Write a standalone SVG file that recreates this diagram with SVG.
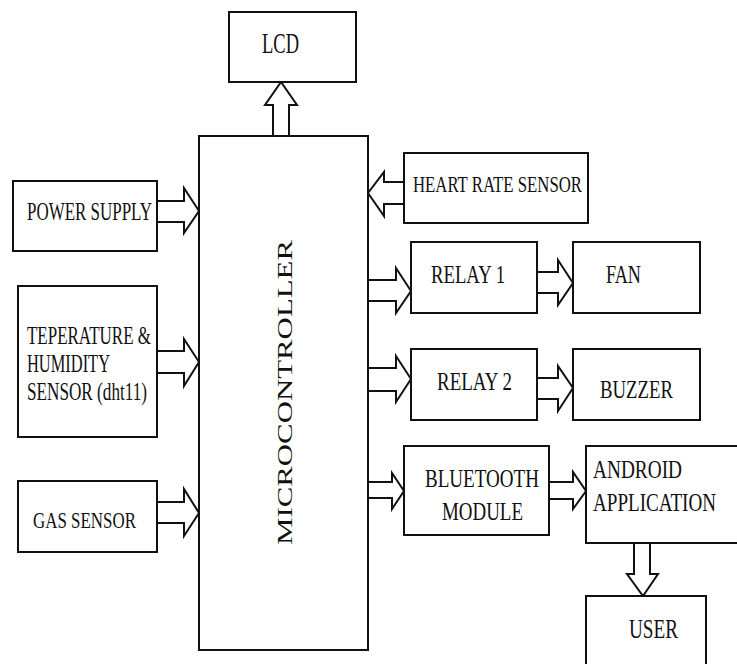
<svg xmlns="http://www.w3.org/2000/svg" width="737" height="664" viewBox="0 0 737 664">
  <style>
    .box { fill: #ffffff; stroke: #111111; stroke-width: 2; }
    .arrow { fill: #ffffff; stroke: #111111; stroke-width: 2; stroke-linejoin: miter; }
    .lbl { font-family: "Liberation Serif", "Times New Roman", serif; fill: #111111; }
  </style>
  <rect x="0" y="0" width="737" height="664" fill="#ffffff"/>

  <!-- block arrows between units -->
  <g id="connectors">
    <path class="arrow" d="M273,136 V105 H265 L281,82 L297,105 H289 V136"/>
    <path class="arrow" d="M157,201 H184 V188 L199,211 L184,233 V222 H157"/>
    <path class="arrow" d="M157,351 H184 V339 L199,362 L184,386 V373 H157"/>
    <path class="arrow" d="M157,502 H184 V489 L199,513 L184,536 V523 H157"/>
    <path class="arrow" d="M404,182 H384 V172 L368,193 L384,216 V204 H404"/>
    <path class="arrow" d="M368,280 H396 V268 L411,291 L396,313 V301 H368"/>
    <path class="arrow" d="M368,368 H396 V356 L411,379 L396,402 V391 H368"/>
    <path class="arrow" d="M368,482 H392 V473 L404,491 L392,509 V498 H368"/>
    <path class="arrow" d="M537,272 H558 V260 L573,283 L558,305 V293 H537"/>
    <path class="arrow" d="M537,378 H558 V366 L573,388 L558,411 V399 H537"/>
    <path class="arrow" d="M549,482 H573 V472 L586,491 L573,509 V499 H549"/>
    <path class="arrow" d="M634,543 V574 H627 L643,596 L658,574 H650 V543"/>
  </g>

  <g id="lcd">
    <rect class="box" x="229" y="12" width="127" height="70"/>
    <text class="lbl" x="262" y="53" font-size="29" textLength="37" lengthAdjust="spacingAndGlyphs">LCD</text>
  </g>

  <g id="microcontroller">
    <rect class="box" x="199" y="136" width="169" height="514"/>
    <text class="lbl" transform="translate(292,545) rotate(-90)" x="0" y="0" font-size="21" textLength="305" lengthAdjust="spacingAndGlyphs">MICROCONTROLLER</text>
  </g>

  <g id="power-supply">
    <rect class="box" x="13" y="181" width="144" height="70"/>
    <text class="lbl" x="27" y="220" font-size="26" textLength="125" lengthAdjust="spacingAndGlyphs">POWER SUPPLY</text>
  </g>

  <g id="temp-humidity">
    <rect class="box" x="18" y="286" width="139" height="151"/>
    <text class="lbl" x="27" y="344" font-size="26" textLength="124" lengthAdjust="spacingAndGlyphs">TEPERATURE &amp;</text>
    <text class="lbl" x="27" y="372" font-size="26" textLength="83" lengthAdjust="spacingAndGlyphs">HUMIDITY</text>
    <text class="lbl" x="27" y="400" font-size="26" textLength="120" lengthAdjust="spacingAndGlyphs">SENSOR (dht11)</text>
  </g>

  <g id="gas-sensor">
    <rect class="box" x="18" y="481" width="139" height="71"/>
    <text class="lbl" x="33" y="528" font-size="24" textLength="103" lengthAdjust="spacingAndGlyphs">GAS SENSOR</text>
  </g>

  <g id="heart-rate">
    <rect class="box" x="404" y="153" width="184" height="70"/>
    <text class="lbl" x="413" y="192" font-size="24" textLength="169" lengthAdjust="spacingAndGlyphs">HEART RATE SENSOR</text>
  </g>

  <g id="relay-1">
    <rect class="box" x="411" y="242" width="126" height="71"/>
    <text class="lbl" x="431" y="283" font-size="26" textLength="74" lengthAdjust="spacingAndGlyphs">RELAY 1</text>
  </g>

  <g id="fan">
    <rect class="box" x="573" y="242" width="127" height="71"/>
    <text class="lbl" x="606" y="283" font-size="26" textLength="35" lengthAdjust="spacingAndGlyphs">FAN</text>
  </g>

  <g id="relay-2">
    <rect class="box" x="411" y="349" width="126" height="71"/>
    <text class="lbl" x="437" y="390" font-size="26" textLength="75" lengthAdjust="spacingAndGlyphs">RELAY 2</text>
  </g>

  <g id="buzzer">
    <rect class="box" x="573" y="349" width="127" height="71"/>
    <text class="lbl" x="600" y="398" font-size="26" textLength="73" lengthAdjust="spacingAndGlyphs">BUZZER</text>
  </g>

  <g id="bluetooth">
    <rect class="box" x="404" y="446" width="145" height="89"/>
    <text class="lbl" x="425" y="487" font-size="26" textLength="114" lengthAdjust="spacingAndGlyphs">BLUETOOTH</text>
    <text class="lbl" x="442" y="520" font-size="26" textLength="81" lengthAdjust="spacingAndGlyphs">MODULE</text>
  </g>

  <g id="android-app">
    <rect class="box" x="586" y="446" width="160" height="97"/>
    <text class="lbl" x="593" y="478" font-size="26" textLength="89" lengthAdjust="spacingAndGlyphs">ANDROID</text>
    <text class="lbl" x="593" y="511" font-size="26" textLength="123" lengthAdjust="spacingAndGlyphs">APPLICATION</text>
  </g>

  <g id="user">
    <rect class="box" x="586" y="596" width="120" height="80"/>
    <text class="lbl" x="629" y="638" font-size="28" textLength="49" lengthAdjust="spacingAndGlyphs">USER</text>
  </g>
</svg>
